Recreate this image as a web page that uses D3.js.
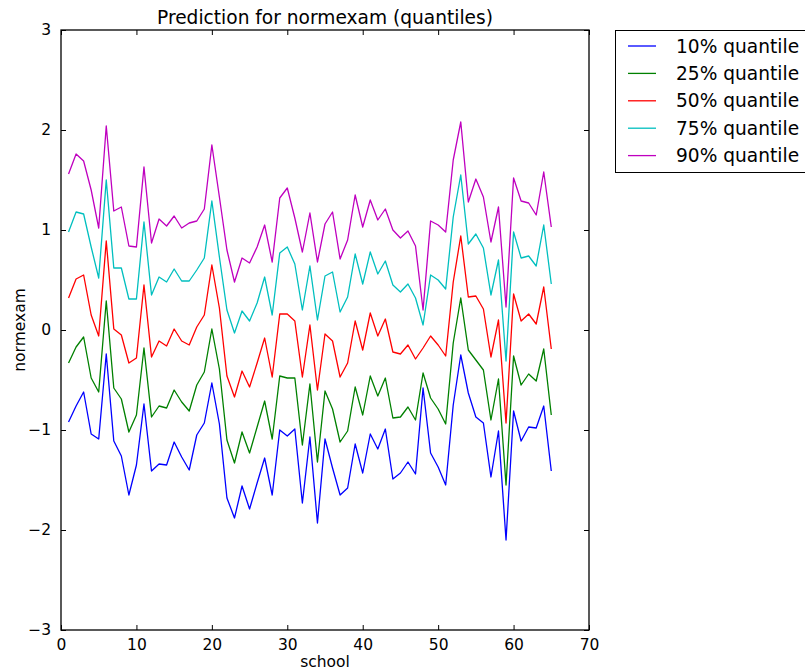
<!DOCTYPE html>
<html>
<head>
<meta charset="utf-8">
<script src="https://cdn.jsdelivr.net/npm/d3@7"></script>
<style>
  html, body { margin: 0; padding: 0; background: #fff; }
  svg { display: block; font-family: "DejaVu Sans", sans-serif; }
</style>
</head>
<body>
<svg id="chart" width="805" height="672"></svg>
<script>
// Predicted normexam per school at five quantiles
const schools = d3.range(1, 66);

const q10 = [-0.92, -0.76, -0.62, -1.04, -1.09, -0.24, -1.11, -1.26, -1.65, -1.35,
  -0.74, -1.41, -1.34, -1.35, -1.12, -1.27, -1.40, -1.05, -0.93, -0.53,
  -0.94, -1.68, -1.88, -1.56, -1.79, -1.53, -1.28, -1.65, -1.00, -1.06,
  -0.99, -1.73, -1.07, -1.93, -1.09, -1.38, -1.65, -1.58, -1.14, -1.43,
  -1.04, -1.19, -0.99, -1.49, -1.43, -1.32, -1.44, -0.58, -1.23, -1.37,
  -1.55, -0.75, -0.25, -0.63, -0.87, -0.93, -1.47, -1.01, -2.10, -0.81,
  -1.11, -0.97, -0.98, -0.76, -1.41];

const q25 = [-0.33, -0.17, -0.07, -0.48, -0.62, 0.29, -0.58, -0.69, -1.02, -0.85,
  -0.18, -0.87, -0.76, -0.78, -0.60, -0.72, -0.81, -0.55, -0.42, 0.01,
  -0.39, -1.10, -1.33, -1.02, -1.23, -0.97, -0.71, -1.09, -0.46, -0.48,
  -0.48, -1.15, -0.54, -1.32, -0.61, -0.79, -1.12, -1.01, -0.57, -0.85,
  -0.46, -0.66, -0.48, -0.88, -0.87, -0.77, -0.90, -0.43, -0.68, -0.79,
  -0.94, -0.13, 0.32, -0.20, -0.30, -0.40, -0.90, -0.49, -1.55, -0.26,
  -0.55, -0.44, -0.51, -0.19, -0.85];

const q50 = [0.32, 0.51, 0.55, 0.15, -0.06, 0.89, 0.01, -0.05, -0.33, -0.28,
  0.45, -0.27, -0.11, -0.16, 0.01, -0.11, -0.15, 0.03, 0.15, 0.65,
  0.22, -0.46, -0.67, -0.41, -0.57, -0.33, -0.08, -0.47, 0.16, 0.16,
  0.09, -0.47, 0.05, -0.60, -0.04, -0.11, -0.47, -0.33, 0.09, -0.20,
  0.17, -0.06, 0.11, -0.22, -0.24, -0.15, -0.29, -0.18, -0.06, -0.15,
  -0.26, 0.48, 0.94, 0.33, 0.34, 0.21, -0.27, 0.10, -0.93, 0.36,
  0.09, 0.16, 0.06, 0.43, -0.19];

const q75 = [0.98, 1.18, 1.16, 0.83, 0.52, 1.50, 0.62, 0.62, 0.31, 0.31,
  1.08, 0.35, 0.53, 0.48, 0.61, 0.49, 0.49, 0.60, 0.72, 1.29,
  0.73, 0.20, -0.03, 0.19, 0.09, 0.27, 0.53, 0.15, 0.77, 0.83,
  0.66, 0.20, 0.64, 0.10, 0.54, 0.58, 0.18, 0.33, 0.76, 0.46,
  0.78, 0.56, 0.69, 0.45, 0.38, 0.46, 0.32, 0.05, 0.55, 0.50,
  0.41, 1.13, 1.55, 0.86, 0.96, 0.82, 0.35, 0.70, -0.31, 0.98,
  0.72, 0.74, 0.64, 1.05, 0.46];

const q90 = [1.56, 1.76, 1.69, 1.40, 1.02, 2.04, 1.19, 1.23, 0.84, 0.83,
  1.63, 0.87, 1.11, 1.04, 1.14, 1.02, 1.07, 1.09, 1.21, 1.85,
  1.33, 0.80, 0.48, 0.72, 0.67, 0.83, 1.05, 0.68, 1.32, 1.42,
  1.12, 0.78, 1.17, 0.68, 1.06, 1.18, 0.71, 0.90, 1.35, 1.03,
  1.30, 1.10, 1.21, 1.00, 0.92, 0.99, 0.84, 0.20, 1.09, 1.05,
  0.98, 1.70, 2.08, 1.28, 1.51, 1.33, 0.88, 1.23, 0.23, 1.52,
  1.29, 1.27, 1.15, 1.58, 1.03];

const seriesNames = ["10% quantile", "25% quantile", "50% quantile", "75% quantile", "90% quantile"];
const seriesColors = ["#0000ff", "#008000", "#ff0000", "#00bfbf", "#bf00bf"];
const seriesValues = [q10, q25, q50, q75, q90];

const xTicks = [0, 10, 20, 30, 40, 50, 60, 70];
const yTicks = [-3, -2, -1, 0, 1, 2, 3];

const svg = d3.select("#chart");
const plot = { left: 61, right: 589, top: 30, bottom: 630 };

const x = d3.scaleLinear().domain([0, 70]).range([plot.left, plot.right]);
const y = d3.scaleLinear().domain([-3, 3]).range([plot.bottom, plot.top]);

const tickFont = 15.5;

// axes with inward ticks on all four sides
const axisBottom = d3.axisBottom(x).tickValues(xTicks).tickSizeInner(-5).tickSizeOuter(0).tickPadding(9);
const axisTop = d3.axisTop(x).tickValues(xTicks).tickSizeInner(-5).tickSizeOuter(0).tickFormat("");
const axisLeft = d3.axisLeft(y).tickValues(yTicks).tickSizeInner(-5).tickSizeOuter(0).tickPadding(10)
  .tickFormat(d => d < 0 ? "\u2212" + Math.abs(d) : d);
const axisRight = d3.axisRight(y).tickValues(yTicks).tickSizeInner(-5).tickSizeOuter(0).tickFormat("");

function styleAxis(g) {
  g.select(".domain").remove();
  g.selectAll(".tick line").attr("stroke", "#000").attr("stroke-width", 1);
  g.selectAll(".tick text").attr("fill", "#000").attr("font-size", tickFont)
    .attr("font-family", "DejaVu Sans, sans-serif");
}

svg.append("g").attr("transform", `translate(0,${plot.bottom})`).call(axisBottom).call(styleAxis);
svg.append("g").attr("transform", `translate(0,${plot.top})`).call(axisTop).call(styleAxis);
svg.append("g").attr("transform", `translate(${plot.left},0)`).call(axisLeft).call(styleAxis);
svg.append("g").attr("transform", `translate(${plot.right},0)`).call(axisRight).call(styleAxis);

// quantile lines
const line = d3.line().x((d, i) => x(schools[i])).y(d => y(d));
seriesValues.forEach((vals, k) => {
  svg.append("path")
    .datum(vals)
    .attr("fill", "none")
    .attr("stroke", seriesColors[k])
    .attr("stroke-width", 1.3)
    .attr("stroke-linejoin", "round")
    .attr("d", line);
});

// frame
svg.append("rect")
  .attr("x", plot.left).attr("y", plot.top)
  .attr("width", plot.right - plot.left).attr("height", plot.bottom - plot.top)
  .attr("fill", "none").attr("stroke", "#000").attr("stroke-width", 1.3);

// title and axis labels
svg.append("text")
  .attr("x", (plot.left + plot.right) / 2).attr("y", 24)
  .attr("text-anchor", "middle").attr("font-size", 18.6)
  .text("Prediction for normexam (quantiles)");

svg.append("text")
  .attr("x", (plot.left + plot.right) / 2).attr("y", 667)
  .attr("text-anchor", "middle").attr("font-size", tickFont)
  .text("school");

svg.append("text")
  .attr("transform", `translate(25,${(plot.top + plot.bottom) / 2}) rotate(-90)`)
  .attr("text-anchor", "middle").attr("font-size", tickFont)
  .text("normexam");

// legend outside the axes on the right
const legend = svg.append("g");
legend.append("rect")
  .attr("x", 615.5).attr("y", 30.5).attr("width", 200).attr("height", 142)
  .attr("fill", "#fff").attr("stroke", "#000").attr("stroke-width", 1);

seriesNames.forEach((name, k) => {
  const cy = 46 + k * 27.4;
  legend.append("line")
    .attr("x1", 628).attr("x2", 656).attr("y1", cy).attr("y2", cy)
    .attr("stroke", seriesColors[k]).attr("stroke-width", 1.3);
  legend.append("text")
    .attr("x", 676).attr("y", cy).attr("dy", "0.36em")
    .attr("font-size", 18.6)
    .text(name);
});
</script>
</body>
</html>
